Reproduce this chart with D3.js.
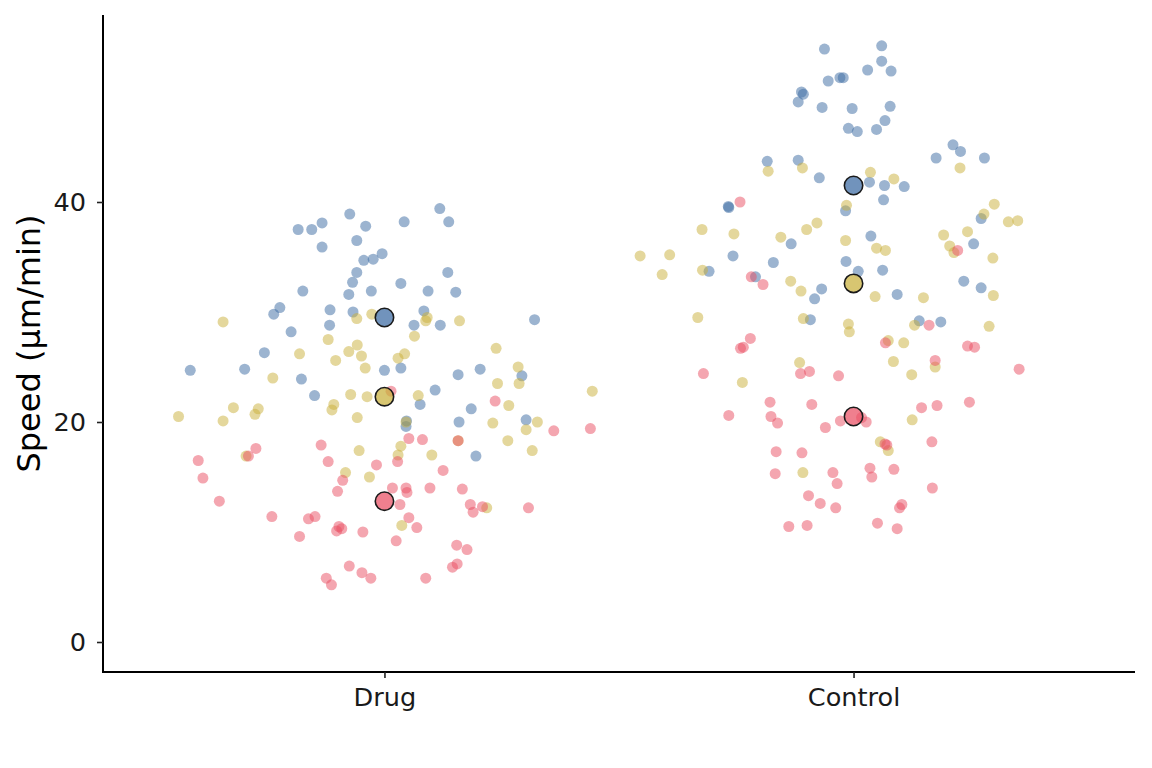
<!DOCTYPE html>
<html><head><meta charset="utf-8">
<script src="https://cdn.jsdelivr.net/npm/d3@7"></script>
<style>body{margin:0;background:#fff}svg{display:block}</style>
</head><body>
<script>
const categories = ["Drug", "Control"];
const replicates = ["A", "B", "C"];
const yTicks = [0, 20, 40];
const yLabel = "Speed (µm/min)";

// [jitter offset (category units), speed]
const drugA = [[-0.074,38.9],[-0.133,38.1],[-0.184,37.5],[-0.155,37.5],[-0.040,37.8],[-0.059,36.5],[-0.133,35.9],[-0.005,35.3],[-0.044,34.7],[-0.024,34.8],[-0.059,33.6],[-0.068,32.7],[0.035,32.6],[-0.174,31.9],[-0.076,31.6],[-0.028,31.9],[-0.223,30.4],[-0.236,29.8],[-0.116,30.2],[-0.067,30.0],[-0.117,28.8],[-0.199,28.2],[-0.256,26.3],[-0.414,24.7],[-0.298,24.8],[-0.177,23.9],[0.000,24.7],[0.035,24.9],[-0.149,22.4],[0.118,39.4],[0.042,38.2],[0.137,38.2],[0.135,33.6],[0.093,31.9],[0.152,31.8],[0.084,30.1],[0.063,28.8],[0.119,28.8],[0.320,29.3],[0.157,24.3],[0.204,24.8],[0.293,24.2],[0.108,22.9],[0.076,21.6],[0.185,21.2],[0.047,20.1],[0.046,19.6],[0.159,20.0],[0.302,20.2],[0.195,16.9]];
const drugB = [[-0.344,29.1],[-0.059,29.4],[-0.027,29.8],[-0.120,27.5],[-0.181,26.2],[-0.104,25.6],[-0.076,26.4],[-0.058,27.0],[-0.049,26.0],[-0.041,24.9],[-0.238,24.0],[0.029,25.8],[-0.072,22.5],[-0.037,22.3],[0.091,29.5],[0.088,29.2],[0.160,29.2],[0.064,27.8],[0.043,26.2],[0.238,26.7],[0.285,25.0],[0.241,23.5],[0.287,23.5],[0.443,22.8],[0.072,22.4],[-0.439,20.5],[-0.322,21.3],[-0.344,20.1],[-0.269,21.2],[-0.276,20.7],[-0.108,21.6],[-0.112,21.1],[-0.058,20.4],[-0.295,16.9],[-0.054,17.4],[-0.083,15.4],[-0.032,15.0],[0.035,17.8],[0.029,17.0],[0.037,10.6],[0.265,21.5],[0.231,19.9],[0.326,20.0],[0.302,19.3],[0.263,18.3],[0.315,17.4],[0.101,17.0],[0.046,20.0],[0.218,12.2],[0.157,18.3]];
const drugC = [[-0.397,16.5],[-0.387,14.9],[-0.352,12.8],[-0.274,17.6],[-0.290,16.9],[-0.135,17.9],[-0.120,16.4],[-0.017,16.1],[-0.089,14.7],[-0.100,13.7],[0.017,14.0],[0.028,16.4],[-0.240,11.4],[-0.162,11.2],[-0.148,11.4],[-0.181,9.6],[-0.097,10.5],[-0.102,10.1],[-0.091,10.3],[-0.046,10.0],[0.025,9.2],[0.033,12.5],[-0.075,6.9],[-0.048,6.3],[-0.029,5.8],[-0.124,5.8],[-0.113,5.2],[0.014,22.8],[0.236,21.9],[0.361,19.2],[0.439,19.4],[0.052,18.5],[0.081,18.4],[0.157,18.3],[0.125,15.6],[0.046,14.0],[0.048,13.6],[0.097,14.0],[0.166,13.9],[0.183,12.5],[0.189,11.8],[0.209,12.3],[0.307,12.2],[0.052,11.3],[0.069,10.4],[0.154,8.8],[0.176,8.4],[0.145,6.8],[0.155,7.1],[0.088,5.8]];
const controlA = [[-0.062,53.9],[-0.054,51.0],[-0.029,51.3],[-0.111,50.0],[-0.107,49.8],[-0.118,49.1],[-0.067,48.6],[-0.184,43.7],[-0.118,43.8],[-0.073,42.2],[-0.267,39.6],[-0.266,39.5],[0.060,54.2],[0.060,52.8],[0.030,52.0],[0.080,51.9],[-0.022,51.3],[-0.003,48.5],[0.078,48.7],[0.067,47.4],[-0.011,46.7],[0.008,46.4],[0.049,46.6],[0.212,45.2],[0.228,44.6],[0.176,44.0],[0.279,44.0],[0.034,41.8],[0.066,41.5],[0.108,41.4],[0.064,40.2],[-0.017,39.2],[0.272,38.5],[0.037,36.9],[-0.133,36.2],[-0.257,35.1],[-0.171,34.5],[-0.308,33.7],[-0.209,33.2],[-0.068,32.1],[-0.083,31.2],[-0.092,29.3],[0.256,36.2],[-0.016,34.6],[0.010,33.7],[0.062,33.8],[0.093,31.6],[0.235,32.8],[0.272,32.2],[0.140,29.2],[0.186,29.1]];
const controlB = [[-0.182,42.8],[-0.109,43.1],[-0.323,37.5],[-0.255,37.1],[-0.078,38.1],[-0.100,37.5],[-0.155,36.8],[-0.455,35.1],[-0.392,35.2],[-0.408,33.4],[-0.322,33.8],[-0.134,32.8],[-0.112,31.9],[-0.332,29.5],[-0.107,29.4],[-0.115,25.4],[-0.237,23.6],[-0.108,15.4],[0.036,42.7],[0.086,42.1],[0.227,43.1],[-0.015,39.7],[0.300,39.8],[0.278,38.9],[0.330,38.2],[0.350,38.3],[0.192,37.0],[0.243,37.3],[-0.017,36.5],[0.049,35.8],[0.068,35.6],[0.205,36.0],[0.214,35.4],[0.297,34.9],[0.046,31.4],[0.149,31.3],[0.298,31.5],[-0.011,28.9],[-0.009,28.2],[0.130,28.8],[0.289,28.7],[0.074,27.4],[0.107,27.2],[0.085,25.5],[0.174,25.0],[0.124,24.3],[0.125,20.2],[0.057,18.2],[0.074,17.4]];
const controlC = [[-0.242,40.0],[-0.218,33.2],[-0.193,32.5],[-0.220,27.6],[-0.235,26.8],[-0.241,26.7],[-0.320,24.4],[-0.113,24.4],[-0.094,24.6],[-0.032,24.2],[0.222,35.6],[0.161,28.8],[0.068,27.2],[0.243,26.9],[0.258,26.8],[0.174,25.6],[0.353,24.8],[-0.178,21.8],[-0.089,21.6],[-0.266,20.6],[-0.176,20.5],[-0.162,19.9],[-0.060,19.5],[-0.028,20.1],[-0.165,17.3],[-0.110,17.2],[-0.167,15.3],[-0.044,15.4],[-0.035,14.4],[-0.096,13.3],[-0.071,12.6],[-0.038,12.2],[-0.138,10.5],[-0.099,10.6],[0.027,20.0],[0.017,20.4],[0.145,21.3],[0.178,21.5],[0.247,21.8],[0.067,18.0],[0.071,17.9],[0.167,18.2],[0.035,15.8],[0.039,15.0],[0.086,15.7],[0.168,14.0],[0.103,12.5],[0.098,12.2],[0.051,10.8],[0.093,10.3]];

const drugMeans = [29.5, 22.3, 12.8];
const controlMeans = [41.5, 32.6, 20.5];

const colors = {A: "#3a6aa2", B: "#c9b03a", C: "#e94d62"};

const W = 1152, H = 768;
const svg = d3.select("body").append("svg").attr("width", W).attr("height", H);

const x = d3.scaleLinear().domain([0.4, 2.6]).range([103, 1135]);
const y = d3.scaleLinear().domain([-2.727, 57]).range([672, 15]);

const groups = [
  {cat: 0, rep: "A", pts: drugA}, {cat: 0, rep: "B", pts: drugB}, {cat: 0, rep: "C", pts: drugC},
  {cat: 1, rep: "A", pts: controlA}, {cat: 1, rep: "B", pts: controlB}, {cat: 1, rep: "C", pts: controlC}
];

const gPts = svg.append("g");
groups.forEach(g => {
  gPts.selectAll(null).data(g.pts).enter().append("circle")
    .attr("cx", d => x(g.cat + 1 + d[0]))
    .attr("cy", d => y(d[1]))
    .attr("r", 5.5)
    .attr("fill", colors[g.rep])
    .attr("fill-opacity", 0.5);
});

const means = [];
[drugMeans, controlMeans].forEach((arr, ci) => arr.forEach((m, ri) => means.push({cat: ci, rep: replicates[ri], v: m})));
svg.append("g").selectAll("circle").data(means).enter().append("circle")
  .attr("cx", d => x(d.cat + 1))
  .attr("cy", d => y(d.v))
  .attr("r", 9.2)
  .attr("fill", d => colors[d.rep])
  .attr("fill-opacity", 0.72)
  .attr("stroke", "#1a1a1a")
  .attr("stroke-width", 1.6);

// axes
const yAxis = d3.axisLeft(y).tickValues(yTicks).tickSize(6).tickPadding(11);
const gy = svg.append("g").attr("transform", "translate(103,0)").call(yAxis);
gy.select(".domain").attr("d", "M0,15V673").attr("stroke", "#000").attr("stroke-width", 2);
gy.selectAll(".tick line").attr("stroke", "#222").attr("stroke-width", 1.6);
gy.selectAll(".tick text").attr("font-family", "DejaVu Sans").attr("font-size", 25.6).attr("fill", "#1a1a1a");

const xAxis = d3.axisBottom(x).tickValues([1, 2]).tickFormat(d => categories[d - 1]).tickSize(6).tickPadding(10);
const gx = svg.append("g").attr("transform", "translate(0,672)").call(xAxis);
gx.select(".domain").attr("d", "M102,0H1135").attr("stroke", "#000").attr("stroke-width", 2);
gx.selectAll(".tick line").attr("stroke", "#222").attr("stroke-width", 1.6);
gx.selectAll(".tick text").attr("font-family", "DejaVu Sans").attr("font-size", 25.6).attr("fill", "#1a1a1a");

svg.append("text")
  .attr("transform", "translate(39.5,343.5) rotate(-90)")
  .attr("text-anchor", "middle")
  .attr("font-family", "DejaVu Sans")
  .attr("font-size", 32)
  .attr("fill", "#000")
  .text(yLabel);
</script>
</body></html>
